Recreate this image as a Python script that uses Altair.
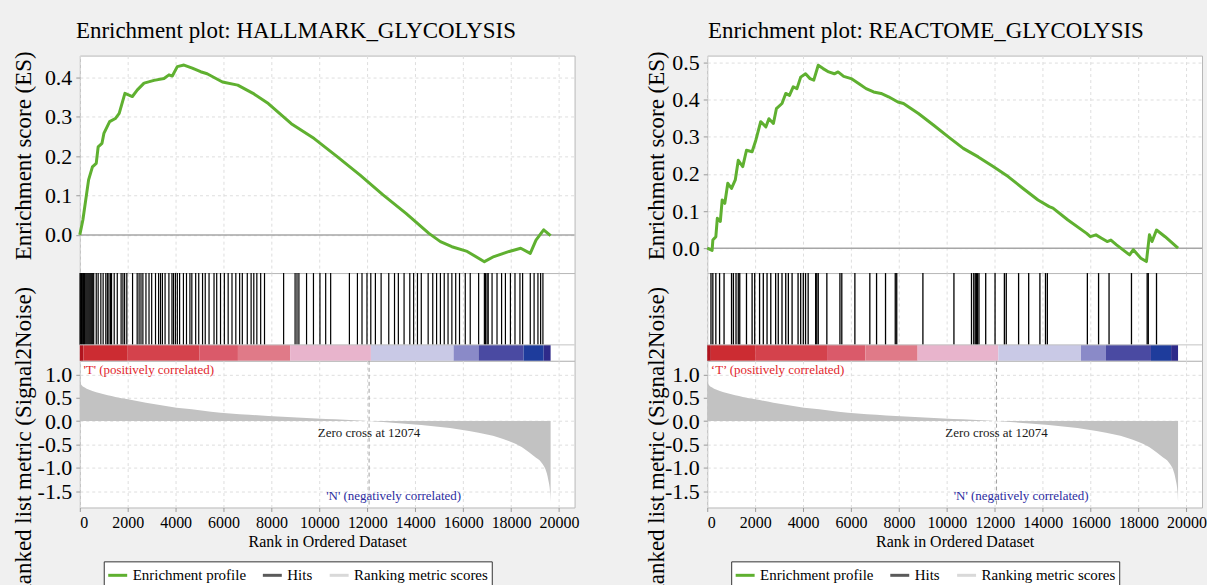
import altair as alt
import pandas as pd

FONT = "Liberation Serif"
RANK_MAX = 20650
ZERO_CROSS = 12074
X_TICKS = list(range(0, 20001, 2000))

titles = ["Enrichment plot: HALLMARK_GLYCOLYSIS", "Enrichment plot: REACTOME_GLYCOLYSIS"]
series_names = ["Enrichment profile", "Hits", "Ranking metric scores"]
series_colors = ["#5fb030", "#5a5a5a", "#d9d9d9"]

# ---- HALLMARK enrichment score profile ----
es_left_rank = [0, 128, 367, 527, 686, 766, 926, 1005, 1245, 1484, 1644, 1883, 2194, 2403,
                2681, 3097, 3514, 3722, 3861, 4069, 4347, 4694, 5042, 5315, 5953, 6592, 7230,
                7868, 8826, 9783, 10741, 11699, 12656, 13614, 14571, 15050, 15529, 16167,
                16886, 17285, 17923, 18402, 18801, 19040, 19359, 19650]
es_left_score = [0.000, 0.038, 0.140, 0.173, 0.182, 0.224, 0.233, 0.258, 0.288, 0.296, 0.309,
                 0.360, 0.352, 0.369, 0.386, 0.393, 0.398, 0.407, 0.404, 0.428, 0.432, 0.424,
                 0.415, 0.410, 0.389, 0.381, 0.360, 0.334, 0.283, 0.245, 0.199, 0.152, 0.102,
                 0.055, 0.004, -0.017, -0.030, -0.042, -0.068, -0.055, -0.042, -0.034, -0.047,
                 -0.013, 0.013, -0.002]

# ---- REACTOME enrichment score profile ----
es_right_rank = [0, 203, 234, 359, 421, 546, 624, 733, 858, 1014, 1170, 1295, 1482, 1638, 1872,
                 2028, 2231, 2449, 2574, 2761, 2886, 3120, 3276, 3432, 3588, 3744, 3900, 4103,
                 4290, 4446, 4633, 4836, 5070, 5304, 5460, 5694, 6006, 6318, 6630, 6942, 7254,
                 7566, 7956, 8190, 8814, 9438, 10062, 10686, 11310, 11934, 12558, 13182, 13806,
                 14274, 14430, 15054, 15834, 15990, 16224, 16458, 16692, 16848, 17082, 17628,
                 17784, 18096, 18330, 18455, 18564, 18751, 19110, 19650]
es_right_score = [0.000, -0.006, 0.022, 0.031, 0.081, 0.072, 0.130, 0.121, 0.175, 0.161, 0.184,
                  0.237, 0.220, 0.264, 0.260, 0.291, 0.341, 0.327, 0.349, 0.336, 0.376, 0.390,
                  0.417, 0.412, 0.435, 0.430, 0.461, 0.470, 0.457, 0.453, 0.493, 0.484, 0.475,
                  0.470, 0.475, 0.463, 0.457, 0.444, 0.430, 0.421, 0.417, 0.408, 0.394, 0.390,
                  0.363, 0.332, 0.300, 0.269, 0.246, 0.220, 0.193, 0.161, 0.130, 0.112, 0.108,
                  0.076, 0.040, 0.031, 0.036, 0.027, 0.018, 0.022, 0.009, -0.018, -0.004,
                  -0.027, -0.036, 0.036, 0.018, 0.049, 0.031, 0.000]

# ---- hit positions (ranks of gene-set members) ----
hits_left = [10, 40, 70, 100, 130, 160, 190, 220, 260, 300, 340, 380, 420, 460, 500, 540, 580,
             686, 766, 878, 974, 1085, 1150, 1215, 1280, 1325, 1436, 1564, 1724, 1800, 1870,
             1963, 2202, 2394, 2474, 2554, 2633, 2761, 2889, 3000, 3160, 3288, 3368, 3447,
             3559, 3719, 3846, 3910, 3990, 4070, 4166, 4325, 4453, 4596, 4676, 4836, 4964,
             5123, 5235, 5394, 5602, 5714, 5873, 6033, 6192, 6352, 6512, 6671, 6783, 6990,
             7150, 7262, 7389, 7549, 7709, 8507, 8985, 9065, 9145, 9464, 9752, 10023, 10262,
             10470, 11252, 11587, 11778, 11986, 12145, 12337, 12576, 12895, 13135, 13295,
             13534, 13773, 13933, 14093, 14252, 14539, 14731, 14891, 15050, 15210, 15369,
             15529, 15689, 15848, 16088, 16295, 16646, 16886, 16934, 16998, 17046, 17206,
             17413, 17604, 17764, 17972, 18163, 18370, 18482, 18801, 18961, 19121, 19233, 19329]
hits_right = [156, 234, 359, 515, 702, 1014, 1092, 1201, 1295, 1357, 1638, 1872, 1981, 2184,
              2340, 2496, 2652, 2855, 2964, 3120, 3276, 3385, 3541, 3791, 3900, 4009, 4103,
              4212, 4524, 4571, 4633, 4992, 5538, 5616, 6162, 6786, 7067, 7441, 7847, 7909,
              9001, 10296, 11029, 11123, 11185, 11232, 11279, 11341, 11622, 12012, 12402,
              12480, 12995, 13416, 13884, 14118, 14196, 15865, 16333, 16770, 17706, 18361,
              18408, 18751]

# ---- ranked list metric (Signal2Noise) ----
metric_rank = [0, 48, 207, 527, 846, 1165, 1484, 2011, 2761, 3399, 4038, 4676, 5474, 6272,
               7070, 7868, 8666, 9464, 10262, 11060, 11858, 12074, 12656, 13454, 14252, 15050,
               15848, 16646, 17444, 18083, 18562, 18961, 19281, 19440, 19552, 19632, 19650]
metric_value = [0.97, 0.79, 0.717, 0.645, 0.595, 0.552, 0.516, 0.466, 0.394, 0.337, 0.287,
                0.251, 0.201, 0.165, 0.136, 0.108, 0.086, 0.065, 0.043, 0.029, 0.007, 0.0,
                -0.022, -0.050, -0.086, -0.129, -0.179, -0.251, -0.344, -0.466, -0.595,
                -0.753, -0.896, -1.039, -1.254, -1.541, -1.72]
metric_ticks = [-1.5, -1.0, -0.5, 0.0, 0.5, 1.0]

# ---- colour bar bands of the ranked list ----
band_start = [0, 150, 2000, 5000, 6600, 8780, 12150, 15600, 16640, 18520, 19360]
band_end = [150, 2000, 5000, 6600, 8780, 12150, 15600, 16640, 18520, 19360, 19650]
band_level = ["r5", "r4", "r3", "r2", "r1", "p0", "b1", "b2", "b3", "b4", "b5"]
band_colors = ["#b0141e", "#cc2c32", "#d4424c", "#da5a6a", "#e07a88", "#e8b4cc",
               "#c9c9e6", "#8a8ac8", "#4a4aa2", "#1e3c9c", "#2e2a8a"]

ES_TITLE = "Enrichment score (ES)"
MET_TITLE = "Ranked list metric (Signal2Noise)"
X_TITLE = "Rank in Ordered Dataset"

W = 496
H_ES, H_HITS, H_MET = 218, 88, 147
BAR_TOP = 0.182

one = pd.DataFrame({"k": [0]})
bands_df = pd.DataFrame({"start": band_start, "end": band_end, "level": band_level})
met_df = pd.DataFrame({"rank": metric_rank, "m": metric_value})

xs = alt.Scale(domain=[0, RANK_MAX], nice=False, zero=False)
grid_x = alt.Axis(values=X_TICKS, labels=False, ticks=False, domain=False, title=None, grid=True)


def make_panel(title, es_rank, es_score, es_domain, es_ticks, hits, t_text, title_x, hit_w):
    es_df = pd.DataFrame({"rank": es_rank, "es": es_score, "series": series_names[0]})
    y_es = alt.Scale(domain=es_domain, nice=False, zero=False)
    es_axis = alt.Axis(values=es_ticks, format=".1f", title=ES_TITLE, titleX=title_x, titleY=100,
                       titleAngle=270, titleBaseline="middle", titleAlign="center", grid=True,
                       labelPadding=4, labelOverlap=False)
    legend = alt.Legend(orient="none", legendX=24, legendY=507, direction="horizontal",
                        title=None, symbolType="stroke", symbolStrokeWidth=3, symbolSize=361,
                        labelFont=FONT, labelFontSize=15, labelColor="black",
                        strokeColor="#333333", fillColor="white", padding=3,
                        columnPadding=10, labelOffset=4)
    zero_line = alt.Chart(one).mark_rule(color="#a6a6a6", strokeWidth=1.5).encode(
        y=alt.YDatum(0, scale=y_es, axis=es_axis, title=ES_TITLE))
    line = alt.Chart(es_df).mark_line(strokeWidth=3, strokeJoin="round").encode(
        x=alt.X("rank:Q", scale=xs, axis=grid_x),
        y=alt.Y("es:Q", scale=y_es, axis=es_axis, title=ES_TITLE),
        color=alt.Color("series:N", scale=alt.Scale(domain=series_names, range=series_colors),
                        legend=legend))
    es_chart = alt.layer(zero_line, line).properties(width=W, height=H_ES)

    hits_df = pd.DataFrame({"rank": hits})
    y_h = alt.Scale(domain=[0, 1], nice=False, zero=False)
    bands = alt.Chart(bands_df).mark_rect().encode(
        x=alt.X("start:Q", scale=xs, axis=grid_x), x2="end:Q",
        y=alt.YDatum(0, scale=y_h, axis=None), y2=alt.Y2Datum(BAR_TOP),
        fill=alt.Fill("level:N", scale=alt.Scale(domain=band_level, range=band_colors),
                      legend=None))
    rules = alt.Chart(hits_df).mark_rule(color="black", strokeWidth=hit_w).encode(
        x=alt.X("rank:Q", scale=xs, axis=grid_x),
        y=alt.YDatum(BAR_TOP, scale=y_h, axis=None), y2=alt.Y2Datum(1))
    sep = alt.Chart(one).mark_rule(color="#c4c4c4", strokeWidth=1).encode(
        y=alt.YDatum(BAR_TOP, scale=y_h, axis=None))
    hits_chart = alt.layer(bands, rules, sep).properties(width=W, height=H_HITS)

    y_m = alt.Scale(domain=[-1.85, 1.29], nice=False, zero=False)
    met_axis = alt.Axis(values=metric_ticks,
                        labelExpr="datum.value < 0 ? '-' + format(-datum.value, '.1f') : format(datum.value, '.1f')",
                        title=MET_TITLE, titleX=title_x, titleY=82, titleAngle=270,
                        titleBaseline="middle", titleAlign="center", grid=True, labelPadding=4,
                        labelOverlap=False, labelBound=False)
    x_axis = alt.Axis(values=X_TICKS, format="d", title=X_TITLE, grid=True, labelFontSize=16,
                      titleFontSize=16, labelPadding=3, titlePadding=3, labelOverlap=False)
    area = alt.Chart(met_df).mark_area(color="#c2c2c2", interpolate="monotone").encode(
        x=alt.X("rank:Q", scale=xs, axis=x_axis, title=X_TITLE),
        y=alt.Y("m:Q", scale=y_m, axis=met_axis, title=MET_TITLE),
        y2=alt.Y2Datum(0))
    zc = alt.Chart(one).mark_rule(color="#a0a0a0", strokeDash=[4, 3]).encode(
        x=alt.XDatum(ZERO_CROSS, scale=xs, axis=x_axis, title=X_TITLE))

    def label(text, xval, yval, align, color):
        return alt.Chart(one).mark_text(align=align, baseline="middle", font=FONT, fontSize=13,
                                        color=color).encode(
            x=alt.XDatum(xval, scale=xs, axis=x_axis, title=X_TITLE),
            y=alt.YDatum(yval, scale=y_m, axis=met_axis, title=MET_TITLE),
            text=alt.value(text))

    t1 = label(t_text, 150, 1.10, "left", "#e2262c")
    t2 = label("Zero cross at 12074", ZERO_CROSS, -0.26, "center", "#1a1a1a")
    t3 = label("'N' (negatively correlated)", 13100, -1.61, "center", "#2c2ca0")
    met_chart = alt.layer(area, zc, t1, t2, t3).properties(width=W, height=H_MET)

    return alt.vconcat(
        es_chart, hits_chart, met_chart, spacing=0, bounds="flush",
        title=alt.Title(title, font=FONT, fontSize=23, fontWeight="normal", anchor="middle",
                        baseline="middle", offset=-4, color="black"))


left = make_panel(titles[0], es_left_rank, es_left_score, [-0.097, 0.456],
                  [0.0, 0.1, 0.2, 0.3, 0.4], hits_left, "'T' (positively correlated)", -56, 1.2)
right = make_panel(titles[1], es_right_rank, es_right_score, [-0.067, 0.519],
                   [0.0, 0.1, 0.2, 0.3, 0.4, 0.5], hits_right, "\u2018T\u2019 (positively correlated)",
                   -51, 1.3)

chart = alt.hconcat(left, right, spacing=65).resolve_scale(
    color="independent", fill="independent"
).properties(
    padding={"left": 12, "top": 19, "right": 0, "bottom": 0},
    background="#f0f0f0",
).configure_view(
    fill="white", stroke="#b8b8b8", strokeWidth=1
).configure_axis(
    labelFont=FONT, titleFont=FONT, labelFontSize=22, titleFontSize=23,
    labelColor="black", titleColor="black", titleFontWeight="normal",
    gridColor="#dedede", gridDash=[3, 3], domain=False, tickColor="#9a9a9a", tickSize=4,
    labelOverlap=False
)

chart.save("out.html", embed_options={"renderer": "svg", "actions": False})
